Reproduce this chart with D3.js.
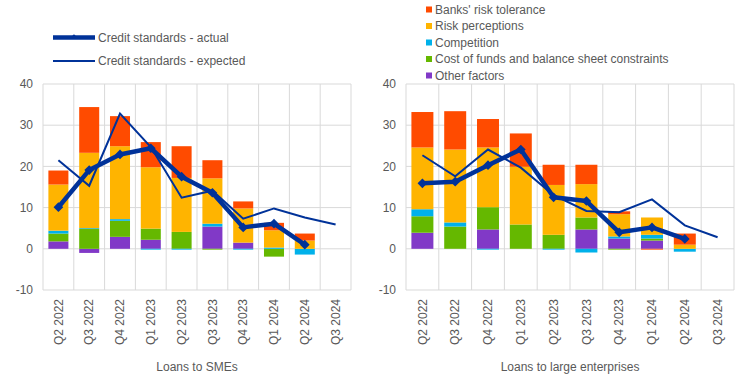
<!DOCTYPE html>
<html>
<head>
<meta charset="utf-8">
<script src="https://cdn.jsdelivr.net/npm/d3@7"></script>
<style>
  body { margin: 0; background: #fff; }
  svg { font-family: "Liberation Sans", Arial, sans-serif; }
</style>
</head>
<body>
<svg id="chart" width="744" height="384"></svg>
<script>
// quarters on the x axis
const categories = ["Q2 2022", "Q3 2022", "Q4 2022", "Q1 2023", "Q2 2023",
                    "Q3 2023", "Q4 2023", "Q1 2024", "Q2 2024", "Q3 2024"];

const factorNames = ["Other factors", "Cost of funds and balance sheet constraints",
                     "Competition", "Risk perceptions", "Banks' risk tolerance"];

// Loans to SMEs - factor contributions (bottom to top)
const smeOther    = [1.8, -1.0, 2.9, 2.2, 0.0, 5.4, 1.5, 0.0, 0.0, null];
const smeCost     = [1.9, 4.8, 3.9, 2.7, 4.1, -0.2, 0.0, -1.9, 0.0, null];
const smeComp     = [0.7, 0.2, 0.4, -0.2, -0.2, 0.7, -0.2, 0.3, -1.4, null];
const smeRiskPerc = [11.2, 18.3, 17.7, 14.9, 13.1, 11.0, 8.3, 4.2, 2.0, null];
const smeRiskTol  = [3.4, 11.1, 7.3, 6.1, 7.7, 4.4, 1.7, 1.8, 1.7, null];
const smeActual   = [10.1, 19.1, 22.9, 24.4, 17.5, 13.6, 5.2, 6.1, 1.0, null];
const smeExpected = [21.5, 15.3, 32.8, 24.7, 12.4, 14.1, 7.3, 9.8, 7.6, 5.9];

// Loans to large enterprises
const lgOther    = [3.9, 0.0, 4.7, 0.0, 0.0, 4.7, 2.5, 2.0, 0.0, null];
const lgCost     = [4.0, 5.4, 5.4, 5.9, 3.4, 2.9, -0.2, 0.5, 0.0, null];
const lgComp     = [1.7, 1.0, -0.2, 0.0, -0.2, -0.9, 0.5, 0.9, -0.7, null];
const lgRiskPerc = [15.0, 17.7, 14.5, 14.0, 12.1, 8.1, 5.4, 4.2, 1.0, null];
const lgRiskTol  = [8.6, 9.3, 6.9, 8.1, 4.9, 4.7, 0.7, -0.2, 2.7, null];
const lgActual   = [15.9, 16.3, 20.3, 24.1, 12.5, 11.6, 4.0, 5.2, 2.4, null];
const lgExpected = [22.7, 17.6, 24.1, 19.7, 13.0, 9.2, 8.9, 12.0, 5.7, 2.8];

const yTicks = [-10, 0, 10, 20, 30, 40];

const colors = ["#8139C7", "#65B800", "#00B1EA", "#FFB400", "#FF4B00"];
const lineColor = "#003299";
const gridColor = "#d9d9d9";
const textColor = "#595959";

const svg = d3.select("#chart");

function drawPanel(opts) {
    const x = d3.scaleBand()
        .domain(categories)
        .range([opts.x0, opts.x1])
        .paddingInner(opts.pad)
        .paddingOuter(opts.pad / 2);

    const y = d3.scaleLinear().domain([-10, 40]).range([290, 84]);

    const g = svg.append("g");

    // horizontal grid
    g.append("g").selectAll("line")
        .data(yTicks)
        .join("line")
        .attr("x1", opts.x0).attr("x2", opts.x1)
        .attr("y1", d => y(d)).attr("y2", d => y(d))
        .attr("stroke", gridColor).attr("stroke-width", 1);

    // vertical grid at category boundaries
    g.append("g").selectAll("line")
        .data(d3.range(categories.length + 1))
        .join("line")
        .attr("x1", i => opts.x0 + i * x.step())
        .attr("x2", i => opts.x0 + i * x.step())
        .attr("y1", y(40)).attr("y2", y(-10))
        .attr("stroke", gridColor).attr("stroke-width", 1);

    // y tick labels
    g.append("g").selectAll("text")
        .data(yTicks)
        .join("text")
        .attr("x", opts.x0 - 10)
        .attr("y", d => y(d))
        .attr("dy", "0.35em")
        .attr("text-anchor", "end")
        .attr("font-size", 12)
        .attr("fill", textColor)
        .text(d => d);

    // x tick labels (rotated)
    g.append("g").selectAll("text")
        .data(categories)
        .join("text")
        .attr("transform", d => `translate(${x(d) + x.bandwidth() / 2},299) rotate(-90)`)
        .attr("text-anchor", "end")
        .attr("dy", "0.35em")
        .attr("font-size", 12)
        .attr("fill", textColor)
        .text(d => d);

    // axis title
    g.append("text")
        .attr("x", (opts.x0 + opts.x1) / 2)
        .attr("y", 371)
        .attr("text-anchor", "middle")
        .attr("font-size", 12)
        .attr("fill", textColor)
        .text(opts.title);

    // stacked bars
    const table = categories.map((c, i) => {
        const row = { cat: c };
        opts.series.forEach((s, k) => { row[k] = s[i] == null ? 0 : s[i]; });
        return row;
    });
    const stack = d3.stack()
        .keys(d3.range(opts.series.length))
        .offset(d3.stackOffsetDiverging);
    const layers = stack(table);

    g.append("g").selectAll("g")
        .data(layers)
        .join("g")
        .attr("fill", (d, k) => colors[k])
        .selectAll("rect")
        .data(d => d)
        .join("rect")
        .attr("x", d => x(d.data.cat))
        .attr("width", x.bandwidth())
        .attr("y", d => y(Math.max(d[0], d[1])))
        .attr("height", d => Math.abs(y(d[0]) - y(d[1])));

    const cx = i => x(categories[i]) + x.bandwidth() / 2;

    // expected line
    const expLine = d3.line()
        .defined(d => d != null)
        .x((d, i) => cx(i))
        .y(d => y(d));
    g.append("path")
        .datum(opts.expected)
        .attr("d", expLine)
        .attr("fill", "none")
        .attr("stroke", lineColor)
        .attr("stroke-width", 2);

    // actual line with diamonds
    g.append("path")
        .datum(opts.actual)
        .attr("d", expLine)
        .attr("fill", "none")
        .attr("stroke", lineColor)
        .attr("stroke-width", 4.5)
        .attr("stroke-linejoin", "round");

    const diamond = d3.symbol().type(d3.symbolDiamond2).size(60);
    g.append("g").selectAll("path")
        .data(opts.actual.map((v, i) => ({ v, i })).filter(d => d.v != null))
        .join("path")
        .attr("d", diamond)
        .attr("transform", d => `translate(${cx(d.i)},${y(d.v)})`)
        .attr("fill", lineColor);
}

drawPanel({
    x0: 43, x1: 351, pad: 0.35, title: "Loans to SMEs",
    series: [smeOther, smeCost, smeComp, smeRiskPerc, smeRiskTol],
    actual: smeActual, expected: smeExpected
});

drawPanel({
    x0: 406, x1: 734, pad: 0.33, title: "Loans to large enterprises",
    series: [lgOther, lgCost, lgComp, lgRiskPerc, lgRiskTol],
    actual: lgActual, expected: lgExpected
});

// line legend (left)
const lineLegend = [
    { label: "Credit standards - actual", width: 4.5, marker: true, y: 37.5 },
    { label: "Credit standards - expected", width: 2, marker: false, y: 61 }
];
const ll = svg.append("g");
lineLegend.forEach(d => {
    ll.append("line")
        .attr("x1", 53).attr("x2", 95)
        .attr("y1", d.y).attr("y2", d.y)
        .attr("stroke", lineColor)
        .attr("stroke-width", d.width);
    if (d.marker) {
        ll.append("path")
            .attr("d", d3.symbol().type(d3.symbolDiamond2).size(14))
            .attr("transform", `translate(74,${d.y - 1})`)
            .attr("fill", lineColor);
    }
    ll.append("text")
        .attr("x", 98).attr("y", d.y)
        .attr("dy", "0.35em")
        .attr("font-size", 12)
        .attr("fill", textColor)
        .text(d.label);
});

// factor legend (right), top to bottom
const legendOrder = [4, 3, 2, 1, 0];
const fl = svg.append("g");
legendOrder.forEach((k, j) => {
    const yy = 9.5 + j * 16.5;
    fl.append("rect")
        .attr("x", 426).attr("y", yy - 3)
        .attr("width", 6).attr("height", 6)
        .attr("fill", colors[k]);
    fl.append("text")
        .attr("x", 435).attr("y", yy)
        .attr("dy", "0.35em")
        .attr("font-size", 12)
        .attr("fill", textColor)
        .text(factorNames[k]);
});
</script>
</body>
</html>
